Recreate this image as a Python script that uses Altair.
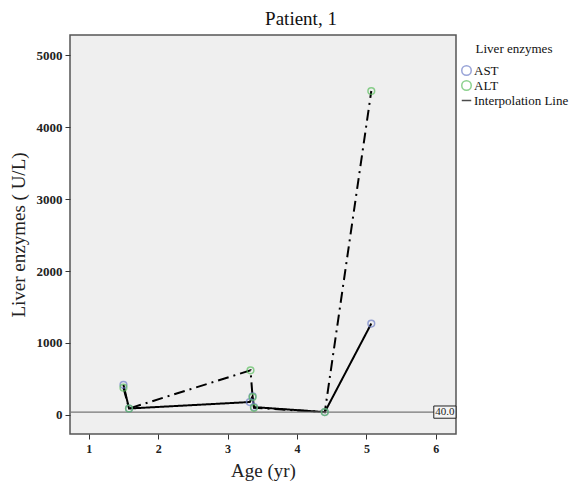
import altair as alt
import pandas as pd

ast_age = [1.50, 1.58, 3.32, 3.36, 3.38, 4.40, 5.07]
ast_val = [420, 90, 180, 260, 110, 40, 1270]
alt_age = [1.50, 1.58, 3.33, 3.36, 3.38, 4.40, 5.07]
alt_val = [380, 90, 620, 250, 100, 40, 4500]
ref_value = 40
ref_label = "40.0"

FONT = "Liberation Serif"

rows = []
for a, v in zip(ast_age, ast_val):
    rows.append({"age": a, "val": v, "enz": "AST"})
for a, v in zip(alt_age, alt_val):
    rows.append({"age": a, "val": v, "enz": "ALT"})
df = pd.DataFrame(rows)

xs = alt.Scale(domain=[0.73, 6.29], nice=False, zero=False)
ys = alt.Scale(domain=[-264, 5278], nice=False, zero=False)

xax = alt.Axis(values=[1, 2, 3, 4, 5, 6], format="d", title="Age (yr)", grid=False, domain=False,
               tickColor="#333", tickSize=5, labelFont=FONT, labelFontSize=12,
               labelFontWeight="bold", labelColor="#222", labelPadding=4,
               titleFont=FONT, titleFontSize=19, titleFontWeight="normal",
               titleColor="#222", titlePadding=7)
yax = alt.Axis(values=[0, 1000, 2000, 3000, 4000, 5000], format="d", title="Liver enzymes ( U/L)",
               grid=False, domain=False, tickColor="#333", tickSize=5, labelFont=FONT,
               labelFontSize=13, labelFontWeight="bold", labelColor="#222",
               labelPadding=3, titleFont=FONT, titleFontSize=19,
               titleFontWeight="normal", titleColor="#222", titlePadding=8)

base = alt.Chart(df)

lines = base.mark_line(color="black", strokeWidth=2).encode(
    x=alt.X("age:Q", scale=xs, axis=xax),
    y=alt.Y("val:Q", scale=ys, axis=yax),
    detail="enz:N",
    strokeDash=alt.StrokeDash("enz:N", scale=alt.Scale(domain=["AST", "ALT"],
                              range=[[1, 0], [11, 5, 2, 5]]), legend=None),
)

points = base.mark_point(filled=False, size=45, strokeWidth=1.5).encode(
    x=alt.X("age:Q", scale=xs),
    y=alt.Y("val:Q", scale=ys),
    color=alt.Color("enz:N", title="Liver enzymes",
                    scale=alt.Scale(domain=["AST", "ALT", "Interpolation Line"],
                                    range=["#6f7fc8", "#5cbf5f", "#000000"])),
    shape=alt.Shape("enz:N", title="Liver enzymes",
                    scale=alt.Scale(domain=["AST", "ALT", "Interpolation Line"],
                                    range=["circle", "circle", "stroke"])),
)

refdf = pd.DataFrame({"y": [ref_value], "label": [ref_label]})
rule = alt.Chart(refdf).mark_rule(color="#777", strokeWidth=1.2).encode(
    y=alt.Y("y:Q", scale=ys))

box = alt.Chart(refdf).mark_rect(fill="#f4f4f4", stroke="#222", strokeWidth=1).encode(
    x=alt.datum(5.97, scale=xs), x2=alt.datum(6.29),
    y=alt.datum(-45, scale=ys), y2=alt.datum(125))

txt = alt.Chart(refdf).mark_text(font=FONT, fontSize=11, align="center",
                                 baseline="middle", color="#222").encode(
    x=alt.datum(6.13, scale=xs), y=alt.datum(40, scale=ys), text="label:N")

chart = alt.layer(lines, rule, points, box, txt).properties(
    width=386, height=399,
    title=alt.TitleParams("Patient, 1", font=FONT, fontSize=19, fontWeight="normal",
                          color="#111", offset=6, frame="bounds", anchor="middle", dx=12),
    padding={"left": 1, "top": 2, "right": 0, "bottom": 4},
).configure_view(fill="#efefef", stroke="#555", strokeWidth=1.5).configure_legend(
    orient="none", legendX=390, legendY=8, titleFont=FONT, titleFontSize=13,
    titleFontWeight="normal", titleColor="#111", labelFont=FONT, labelFontSize=13,
    labelColor="#111", symbolSize=90, symbolStrokeWidth=1.5, symbolFillColor="transparent",
    rowPadding=-9, titlePadding=8, labelOffset=1, labelLimit=200, titleAnchor="middle",
)

chart.save("out.html", embed_options={"renderer": "svg", "actions": False})
